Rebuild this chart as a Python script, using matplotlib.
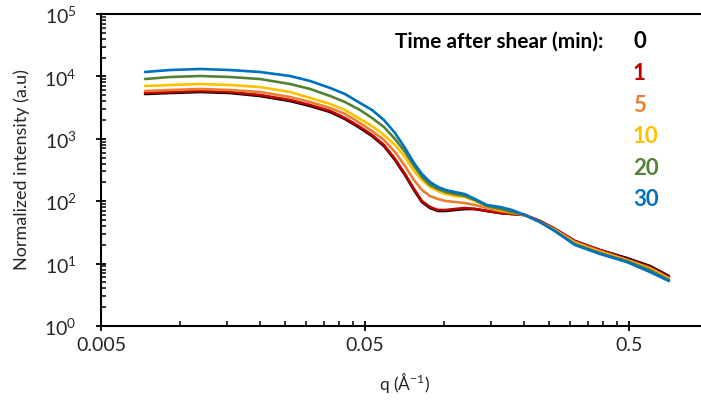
import numpy as np
import matplotlib.pyplot as plt
from matplotlib.ticker import FixedLocator, NullFormatter, FixedFormatter

# Datos (q en 1/A, intensidad normalizada)
q = [0.00734, 0.00913, 0.0119, 0.0154, 0.0200, 0.0260, 0.0310, 0.0369, 0.0420, 0.0479,
     0.0532, 0.0590, 0.0650, 0.0709, 0.0767, 0.0822, 0.0882, 0.0945, 0.1013, 0.1096,
     0.1196, 0.1305, 0.1449, 0.1625, 0.1803, 0.2018, 0.2301, 0.2622, 0.312, 0.388,
     0.491, 0.601, 0.709]

I_0 = [5223, 5420, 5623, 5420, 4851, 4034, 3355, 2689, 2077, 1490,
       1109, 767, 457, 263, 151, 97.1, 77.8, 69.7, 69.7, 72.3,
       75.0, 75.0, 69.7, 64.7, 62.4, 60.1, 48.2, 35.9, 23.0, 16.5,
       12.3, 9.15, 6.33]
I_1 = [5420, 5623, 5835, 5623, 5033, 4185, 3481, 2789, 2155, 1546,
       1151, 796, 475, 273, 157, 100.7, 80.7, 72.3, 72.3, 75.0,
       77.8, 75.0, 69.7, 64.7, 62.4, 60.1, 48.2, 35.9, 23.0, 16.5,
       11.85, 8.82, 6.10]
I_5 = [5835, 6055, 6285, 6055, 5623, 4675, 3888, 3116, 2497, 1792,
       1334, 957, 614, 367, 219, 151, 121, 108.5, 100.7, 97.1,
       93.6, 86.9, 77.8, 69.7, 64.7, 60.1, 46.5, 34.6, 22.2, 15.9,
       11.4, 8.50, 5.88]
I_10 = [7020, 7280, 7555, 7280, 6765, 5623, 4506, 3612, 2894, 2077,
        1604, 1151, 796, 511, 305, 219, 169, 146, 130, 121,
        117, 100.7, 83.8, 72.3, 67.1, 60.1, 46.5, 34.6, 21.4, 15.3,
        11.4, 8.19, 5.67]
I_20 = [9085, 9780, 10150, 9780, 9085, 7555, 6285, 4851, 3888, 2894,
        2155, 1546, 993, 614, 367, 244, 182, 157, 140, 130,
        121, 104.5, 83.8, 75.0, 67.1, 60.1, 46.5, 33.3, 20.6, 14.8,
        11.0, 7.90, 5.46]
I_30 = [11770, 12660, 13140, 12660, 11770, 10150, 8439, 6520, 5223, 3748,
        2894, 2001, 1239, 713, 409, 273, 203, 169, 151, 140,
        130, 108.5, 86.9, 80.7, 72.3, 60.1, 46.5, 33.3, 19.9, 14.3,
        10.6, 7.33, 5.26]

tiempos = ['0', '1', '5', '10', '20', '30']
series = [I_0, I_1, I_5, I_10, I_20, I_30]
colores = ['#000000', '#C00000', '#ED7D31', '#FFC000', '#548235', '#0070C0']

x_ticks = [0.005, 0.05, 0.5]
x_ticklabels = ['0.005', '0.05', '0.5']
y_ticks = [1, 10, 100, 1000, 10000, 100000]
y_ticklabels = ['$10^{0}$', '$10^{1}$', '$10^{2}$', '$10^{3}$', '$10^{4}$', '$10^{5}$']

plt.rcParams['font.family'] = ['Lato', 'DejaVu Sans']
plt.rcParams['mathtext.fontset'] = 'custom'
plt.rcParams['mathtext.rm'] = 'Lato'
plt.rcParams['mathtext.it'] = 'Lato'

W, H = 701, 406
fig = plt.figure(figsize=(W / 100, H / 100), dpi=100)
ax = fig.add_axes([101 / W, 1 - 327 / H, 1 - 101 / W, (327 - 15) / H])

for I, c in zip(series, colores):
    ax.plot(q, I, color=c, lw=1.9, solid_capstyle='round', solid_joinstyle='round')

ax.set_xscale('log')
ax.set_yscale('log')
ax.set_xlim(0.005, 0.938)
ax.set_ylim(1, 1e5)

ax.xaxis.set_major_locator(FixedLocator(x_ticks))
ax.xaxis.set_major_formatter(FixedFormatter(x_ticklabels))
x_minor = [0.005 * k * 10 ** n for n in range(2) for k in range(2, 10)]
ax.xaxis.set_minor_locator(FixedLocator(x_minor))
ax.xaxis.set_minor_formatter(NullFormatter())

ax.yaxis.set_major_locator(FixedLocator(y_ticks))
ax.yaxis.set_major_formatter(FixedFormatter(y_ticklabels))
y_minor = [k * 10 ** n for n in range(5) for k in range(2, 10)]
ax.yaxis.set_minor_locator(FixedLocator(y_minor))
ax.yaxis.set_minor_formatter(NullFormatter())

ax.tick_params(which='major', direction='inout', length=7, width=1.3, labelsize=14, colors='black')
ax.tick_params(axis='x', which='major', pad=4)
ax.tick_params(axis='y', which='major', pad=14)
ax.tick_params(which='minor', direction='in', length=3.6, width=1.1)
for lbl in ax.get_xticklabels() + ax.get_yticklabels():
    lbl.set_color('#262626')

for s in ['left', 'bottom', 'top']:
    ax.spines[s].set_linewidth(1.5)
ax.spines['right'].set_visible(False)

fig.text(405 / W, 1 - 383 / H, 'q (Å$^{-1}$)', ha='center', va='center', fontsize=12.5, color='#262626')
fig.text(22 / W, 1 - 170 / H, 'Normalized intensity (a.u)', rotation=90,
         ha='center', va='center', fontsize=13, color='#262626')

# Leyenda de tiempos
fig.text(603 / W, 1 - 42 / H, 'Time after shear (min):', ha='right', va='center',
         fontsize=15, fontweight='bold')
for i, (t, c) in enumerate(zip(tiempos, colores)):
    fig.text(633 / W, 1 - (42 + 31.6 * i) / H, t, ha='left', va='center',
             fontsize=16, fontweight='bold', color=c)

plt.savefig('out.png', dpi=100)
